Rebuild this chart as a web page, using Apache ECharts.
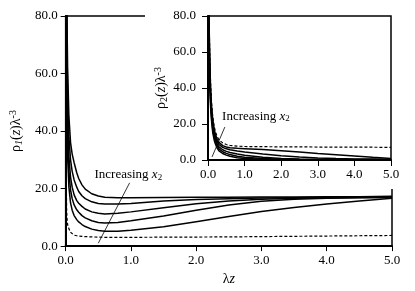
<!DOCTYPE html>
<html>
<head>
<meta charset="utf-8">
<script src="https://cdn.jsdelivr.net/npm/echarts@6/dist/echarts.min.js"></script>
<style>html,body{margin:0;padding:0;background:#fff}#c{width:415px;height:291px}</style>
</head>
<body>
<div id="c"></div>
<script>
// x positions (λz) shared by all curves
const xs = [0.01, 0.015, 0.02, 0.03, 0.05, 0.075, 0.1, 0.13, 0.17, 0.2, 0.25, 0.3, 0.4, 0.5, 0.6, 0.8, 1.0, 1.5, 2, 2.5, 3, 3.5, 4, 4.5, 5];

// main panel: rho1(z) lambda^-3, increasing x2 goes downward
const rho1_a = [125, 95, 80, 62, 45, 36, 32, 29, 25.5, 23.5, 21.3, 19.8, 18.2, 17.4, 17.0, 16.8, 16.8, 16.9, 17.0, 17.0, 17.1, 17.1, 17.2, 17.2, 17.3];
const rho1_b = [115, 85, 70, 53, 38, 30, 26, 23, 20.5, 19, 17.5, 16.5, 15.4, 14.8, 14.6, 14.6, 14.8, 15.7, 16.2, 16.5, 16.7, 16.8, 16.9, 17.0, 17.1];
const rho1_c = [105, 75, 60, 45, 31, 24, 20.5, 17.8, 15.8, 14.9, 13.8, 12.9, 11.9, 11.4, 11.2, 11.4, 11.9, 13.3, 14.7, 15.7, 16.3, 16.6, 16.8, 16.9, 17.0];
const rho1_d = [95, 65, 52, 38, 26, 19.5, 16.5, 14.3, 12.6, 11.8, 10.6, 9.8, 8.8, 8.2, 8.0, 8.2, 8.8, 10.5, 12.5, 14.3, 15.6, 16.3, 16.6, 16.8, 16.9];
const rho1_e = [85, 55, 43, 31, 20.5, 15, 12.5, 10.6, 9.2, 8.4, 7.5, 6.8, 5.9, 5.4, 5.2, 5.2, 5.5, 6.7, 8.5, 10.3, 12.0, 13.4, 14.6, 15.7, 16.6];
const rho1_dash = [22, 13, 10, 7.5, 6, 4.8, 4.2, 3.8, 3.6, 3.5, 3.4, 3.3, 3.2, 3.1, 3.05, 3.05, 3.05, 3.1, 3.15, 3.2, 3.3, 3.4, 3.5, 3.6, 3.7];

// inset panel: rho2(z) lambda^-3, increasing x2 goes upward
const rho2_a = [115, 96, 80, 60, 41, 28, 21, 15.2, 11, 9.0, 6.6, 5.1, 3.6, 2.7, 2.1, 1.3, 0.9, 0.4, 0.2, 0.12, 0.08, 0.05, 0.05, 0.04, 0.04];
const rho2_b = [120, 100, 84, 64, 44, 30, 23, 17, 12.5, 10.3, 7.8, 6.2, 4.6, 3.7, 3.0, 2.1, 1.5, 0.8, 0.45, 0.3, 0.2, 0.15, 0.12, 0.1, 0.1];
const rho2_c = [125, 104, 88, 68, 47, 32.5, 25, 18.8, 14, 11.7, 9.0, 7.3, 5.7, 4.8, 4.2, 3.3, 2.6, 1.5, 0.9, 0.6, 0.45, 0.35, 0.3, 0.25, 0.2];
const rho2_d = [130, 108, 92, 72, 50, 35, 27, 20.5, 15.5, 13, 10.3, 8.6, 7.0, 6.2, 5.7, 5.0, 4.5, 3.4, 2.4, 1.6, 1.1, 0.8, 0.6, 0.5, 0.4];
const rho2_e = [135, 112, 96, 76, 53, 37.5, 29, 22.5, 17, 14.5, 11.5, 9.8, 8.0, 7.2, 6.8, 6.5, 6.3, 5.8, 5.1, 4.4, 3.6, 2.9, 2.2, 1.5, 0.9];
const rho2_dash = [140, 115, 100, 80, 56, 40, 31, 24, 18.5, 16, 13, 11.2, 9.5, 8.6, 8.1, 7.7, 7.5, 7.4, 7.3, 7.3, 7.2, 7.2, 7.1, 7.1, 7.0];

// annotation anchors (data coordinates)
const mainLabelAt = [0.96, 24.7];
const mainArrow = [[0.98, 22.0], [0.5, 1.0]];
const insetLabelAt = [1.31, 24.4];
const insetArrow = [[0.11, 1.7], [0.46, 18.3]];

const FONT = '"Liberation Serif", "Times New Roman", Times, serif';
const pairs = ys => xs.map((x, i) => [x, ys[i]]);
const fmt = v => v.toFixed(1);

const annRich = {
  a: {fontFamily: FONT, fontSize: 13, color: '#000'},
  x: {fontFamily: FONT, fontSize: 13, fontStyle: 'italic', color: '#000'},
  s: {fontFamily: FONT, fontSize: 9, color: '#000', verticalAlign: 'bottom', padding: [6, 0, 0, 0]}
};
const nameRich = (k) => ({
  r: {fontFamily: FONT, fontSize: 14, color: '#000'},
  i: {fontFamily: FONT, fontSize: 14, fontStyle: 'italic', color: '#000'},
  sub: {fontFamily: FONT, fontSize: 10, fontStyle: k === '1' ? 'italic' : 'normal', color: '#000', verticalAlign: 'bottom', padding: [6, 0, 0, 0]},
  sup: {fontFamily: FONT, fontSize: 10, color: '#000', verticalAlign: 'top', padding: [0, 0, 6, 0]}
});

function axisCommon(z, margin, tickLen) {
  return {
    z: z,
    axisLine: {show: true, lineStyle: {color: '#000', width: 2}},
    axisTick: {show: true, inside: false, length: tickLen, lineStyle: {color: '#000', width: 1}},
    axisLabel: {formatter: fmt, fontFamily: FONT, fontSize: 13, color: '#000', margin: margin},
    splitLine: {show: false}
  };
}

function mkSeries(ys, xi, yi, z, dashed, extra) {
  return Object.assign({
    type: 'line', xAxisIndex: xi, yAxisIndex: yi, z: z,
    data: pairs(ys), showSymbol: false, symbol: 'none', smooth: false, clip: true,
    lineStyle: dashed ? {color: '#000', width: 1.2, type: [3, 2]} : {color: '#000', width: 1.5},
    animation: false, silent: true
  }, extra || {});
}

const chart = echarts.init(document.getElementById('c'), null, {renderer: 'canvas'});
chart.setOption({
  animation: false,
  backgroundColor: '#fff',
  textStyle: {fontFamily: FONT},
  grid: [
    {left: 64, top: 16, right: 23, bottom: 42, show: true, borderColor: '#000', borderWidth: 1.5, z: 0},
    {left: 208, top: 16, right: 24, bottom: 131, show: true, borderColor: '#000', borderWidth: 1.5, z: 4}
  ],
  xAxis: [
    Object.assign(axisCommon(0, 8, 5), {type: 'value', gridIndex: 0, min: 0, max: 5, interval: 1,
      name: '{r|λ}{i|z}', nameLocation: 'middle', nameGap: 25,
      nameTextStyle: {rich: nameRich('z')}}),
    Object.assign(axisCommon(4, 8, 6), {type: 'value', gridIndex: 1, min: 0, max: 5, interval: 1})
  ],
  yAxis: [
    Object.assign(axisCommon(0, 8, 5), {type: 'value', gridIndex: 0, min: 0, max: 80, interval: 20,
      name: '{r|ρ}{sub|1}{r|(}{i|z}{r|)λ}{sup|-3}', nameLocation: 'middle', nameGap: 40,
      nameTextStyle: {rich: nameRich('1')}}),
    Object.assign(axisCommon(4, 12, 6), {type: 'value', gridIndex: 1, min: 0, max: 80, interval: 20,
      name: '{r|ρ}{sub|2}{r|(}{i|z}{r|)λ}{sup|-3}', nameLocation: 'middle', nameGap: 37,
      nameTextStyle: {rich: nameRich('2')}})
  ],
  graphic: {elements: [
    {type: 'rect', shape: {x: 145, y: 0, width: 270, height: 189}, style: {fill: '#fff'}, z: 3, silent: true}
  ]},
  series: [
    mkSeries(rho1_a, 0, 0, 6, false),
    mkSeries(rho1_b, 0, 0, 6, false),
    mkSeries(rho1_c, 0, 0, 6, false),
    mkSeries(rho1_d, 0, 0, 6, false),
    mkSeries(rho1_e, 0, 0, 6, false),
    mkSeries(rho1_dash, 0, 0, 6, true, {
      markPoint: {symbol: 'circle', symbolSize: 0, silent: true,
        label: {show: true, position: 'inside', formatter: '{a|Increasing }{x|x}{s|2}', rich: annRich},
        data: [{coord: mainLabelAt}]},
      markLine: {silent: true, symbol: ['none', 'arrow'], symbolSize: [0, 7], label: {show: false},
        lineStyle: {color: '#000', width: 0.8, type: 'solid'},
        data: [[{coord: mainArrow[0]}, {coord: mainArrow[1]}]]}
    }),
    mkSeries(rho2_a, 1, 1, 5, false),
    mkSeries(rho2_b, 1, 1, 5, false),
    mkSeries(rho2_c, 1, 1, 5, false),
    mkSeries(rho2_d, 1, 1, 5, false),
    mkSeries(rho2_e, 1, 1, 5, false),
    mkSeries(rho2_dash, 1, 1, 5, true, {
      markPoint: {symbol: 'circle', symbolSize: 0, silent: true,
        label: {show: true, position: 'inside', formatter: '{a|Increasing }{x|x}{s|2}', rich: annRich},
        data: [{coord: insetLabelAt}]},
      markLine: {silent: true, symbol: ['none', 'arrow'], symbolSize: [0, 7], label: {show: false},
        lineStyle: {color: '#000', width: 0.8, type: 'solid'},
        data: [[{coord: insetArrow[0]}, {coord: insetArrow[1]}]]}
    })
  ]
});
</script>
</body>
</html>
